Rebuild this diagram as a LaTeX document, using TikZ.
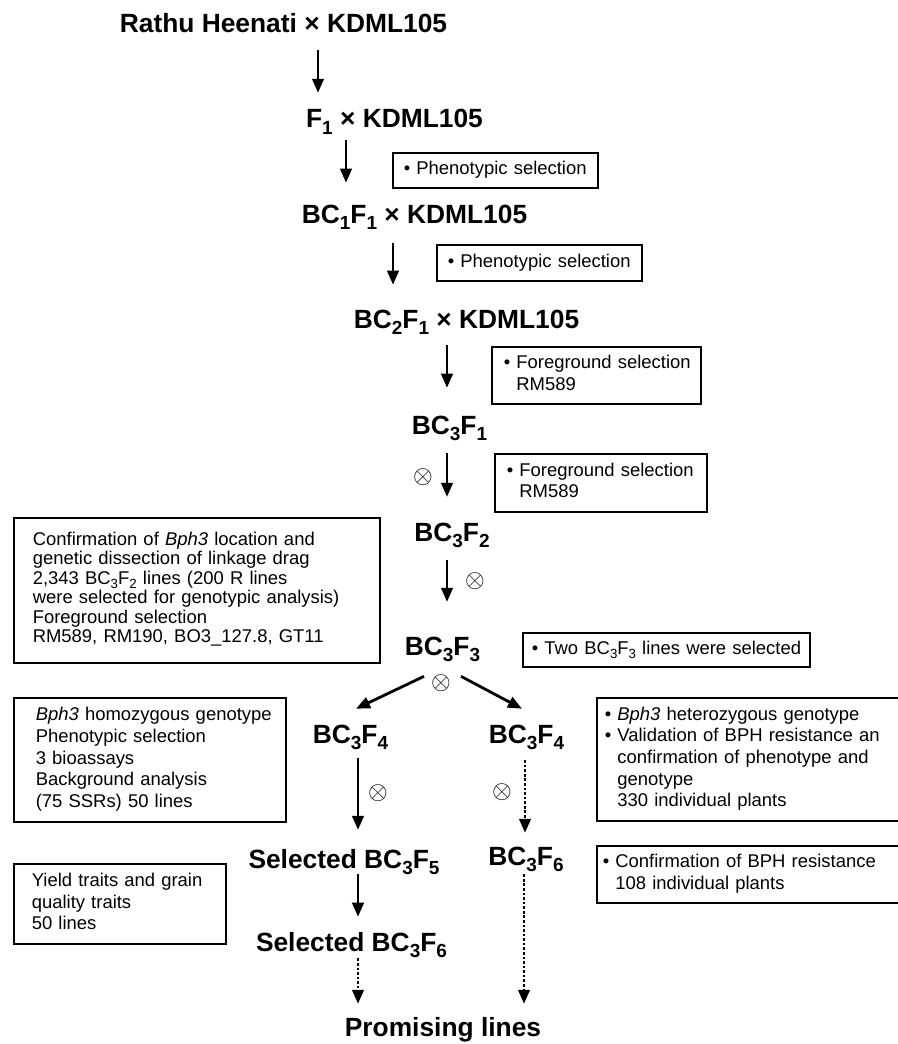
\documentclass[tikz,border=0pt]{standalone}
\usepackage{fontspec}
\setmainfont{Liberation Sans}
\usetikzlibrary{arrows.meta}

\newcommand\low[1]{\raisebox{-0.45ex}{\scalebox{0.72}{#1}}}

\tikzset{
	gen/.style={font=\bfseries\fontsize{15}{18}\selectfont, inner sep=0pt, text height=10.2pt, text depth=3.4pt, anchor=base},
	sel/.style={draw, line width=0.9pt, anchor=north west, inner sep=0pt, align=left, font=\fontsize{10.5}{12.3}\selectfont},
	arr/.style={line width=1.6pt, -{Triangle[length=8pt,width=6.5pt]}},
	dotarr/.style={arr, dash pattern=on 1.5pt off 1.1pt},
	cross/.style={font=\fontsize{13.5}{13.5}\selectfont, inner sep=0pt}
}

\begin{document}
\begin{tikzpicture}[x=0.02cm, y=-0.02cm]
			\useasboundingbox (0,0) rectangle (898,1044);
			\clip (0,0) rectangle (898,1044);

			\node[gen] (title) at (283.5,33) {Rathu Heenati × KDML105};
			\node[gen] (fone) at (394.5,128) {F\low{1} × KDML105};
			\node[gen] (bcone) at (414.5,223) {BC\low{1}F\low{1} × KDML105};
			\node[gen] (bctwo) at (466.5,328) {BC\low{2}F\low{1} × KDML105};
			\node[gen] (bcfone) at (449.5,434) {BC\low{3}F\low{1}};
			\node[gen] (bcftwo) at (452,541) {BC\low{3}F\low{2}};
			\node[gen] (bcfthree) at (442.5,655) {BC\low{3}F\low{3}};
			\node[gen] (bcfourl) at (350.5,743) {BC\low{3}F\low{4}};
			\node[gen] (bcfourr) at (526.5,743) {BC\low{3}F\low{4}};
			\node[gen] (selfive) at (344,868) {Selected BC\low{3}F\low{5}};
			\node[gen] (bcsix) at (526,865) {BC\low{3}F\low{6}};
			\node[gen] (selsix) at (351.5,951) {Selected BC\low{3}F\low{6}};
			\node[gen] (promise) at (443,1036) {Promising lines};

			\node[cross] (xa) at (423,477) {$\otimes$};
			\node[cross] (xb) at (475,581) {$\otimes$};
			\node[cross] (xc) at (441,683) {$\otimes$};
			\node[cross] (xd) at (378,793) {$\otimes$};
			\node[cross] (xe) at (502,792) {$\otimes$};

			\node[sel, minimum height=0.70cm, text width=4.10cm] (phenoa) at (392,152)
			{\hspace*{0.22cm}\begin{tabular}{@{}l@{}}• Phenotypic selection\end{tabular}};
			\node[sel, minimum height=0.72cm, text width=4.10cm] (phenob) at (436,244)
			{\hspace*{0.22cm}\begin{tabular}{@{}l@{}}• Phenotypic selection\end{tabular}};
			\node[sel, minimum height=1.14cm, text width=4.18cm] (forea) at (491,346)
			{\hspace*{0.24cm}\begin{tabular}{@{}l@{}}• Foreground selection\\ \phantom{• }RM589\end{tabular}};
			\node[sel, minimum height=1.16cm, text width=4.24cm] (foreb) at (494,453)
			{\hspace*{0.24cm}\begin{tabular}{@{}l@{}}• Foreground selection\\ \phantom{• }RM589\end{tabular}};
			\node[sel, minimum height=2.90cm, text width=7.32cm] (confirm) at (13,517)
			{\hspace*{0.38cm}\fontsize{10.5}{11.1}\selectfont
				\begin{tabular}{@{}l@{}}
					Confirmation of \textit{Bph3} location and\\
					genetic dissection of linkage drag\\
					2,343 BC\low{3}F\low{2} lines (200 R lines\\
					were selected for genotypic analysis)\\
					Foreground selection\\
					RM589, RM190, BO3\_127.8, GT11
				\end{tabular}};
			\node[sel, minimum height=0.68cm, text width=5.74cm] (twosel) at (522,632)
			{\hspace*{0.18cm}\begin{tabular}{@{}l@{}}• Two BC\low{3}F\low{3} lines were selected\end{tabular}};
			\node[sel, minimum height=2.48cm, text width=5.44cm] (homo) at (13,697)
			{\hspace*{0.44cm}\begin{tabular}{@{}l@{}}
					\textit{Bph3} homozygous genotype\\
					Phenotypic selection\\
					3 bioassays\\
					Background analysis\\
					(75 SSRs) 50 lines
				\end{tabular}};
			\node[sel, minimum height=2.46cm, text width=7.00cm] (hetero) at (596,697)
			{\hspace*{0.16cm}\begin{tabular}{@{}l@{}}
					• \textit{Bph3} heterozygous genotype\\
					• Validation of BPH resistance an\\
					\phantom{• }confirmation of phenotype and\\
					\phantom{• }genotype\\
					\phantom{• }330 individual plants
				\end{tabular}};
			\node[sel, minimum height=1.14cm, text width=7.00cm] (resist) at (596,845)
			{\hspace*{0.12cm}\begin{tabular}{@{}l@{}}
					• Confirmation of BPH resistance\\
					\phantom{• }108 individual plants
				\end{tabular}};
			\node[sel, minimum height=1.60cm, text width=4.24cm] (yield) at (13,863)
			{\hspace*{0.36cm}\begin{tabular}{@{}l@{}}
					Yield traits and grain\\
					quality traits\\
					50 lines
				\end{tabular}};

			\draw[arr, shorten <=6.2pt, shorten >=9.6pt] (title.south -| 318,0) -- (fone.north -| 318,0);
			\draw[arr, shorten <=3.4pt, shorten >=12.5pt] (fone.south -| 346,0) -- (bcone.north -| 346,0);
			\draw[arr, shorten <=7.9pt, shorten >=14.2pt] (bcone.south -| 393,0) -- (bctwo.north -| 393,0);
			\draw[arr, shorten <=6.2pt, shorten >=15.9pt] (bctwo.south -| 447,0) -- (bcfone.north -| 447,0);
			\draw[arr, shorten <=7.4pt, shorten >=14.7pt] (bcfone.south -| 447,0) -- (bcftwo.north -| 447,0);
			\draw[arr, shorten <=7.4pt, shorten >=19.8pt] (bcftwo.south -| 447,0) -- (bcfthree.north -| 447,0);
			\draw[arr] ([shift={(-18.5,15)}]bcfthree.south) -- ([shift={(5.5,-16)}]bcfourl.north);
			\draw[arr] ([shift={(18.5,15)}]bcfthree.south) -- ([shift={(-4.5,-16)}]bcfourr.north);
			\draw[arr, shorten <=5.1pt, shorten >=11.3pt] (bcfourl.south -| 358,0) -- (selfive.north -| 358,0);
			\draw[dotarr, shorten <=6.2pt, shorten >=7.9pt] (bcfourr.south -| 525,0) -- (bcsix.north -| 525,0);
			\draw[arr, shorten >=9.1pt] (selfive.south -| 358,0) -- (selsix.north -| 358,0);
			\draw[dotarr, shorten <=0.6pt, shorten >=7.9pt] (selsix.south -| 358,0) -- (promise.north -| 358,0);
			\draw[dotarr, shorten <=1.7pt, shorten >=7.9pt] (bcsix.south -| 524,0) -- (promise.north -| 524,0);
		\end{tikzpicture}
\end{document}
